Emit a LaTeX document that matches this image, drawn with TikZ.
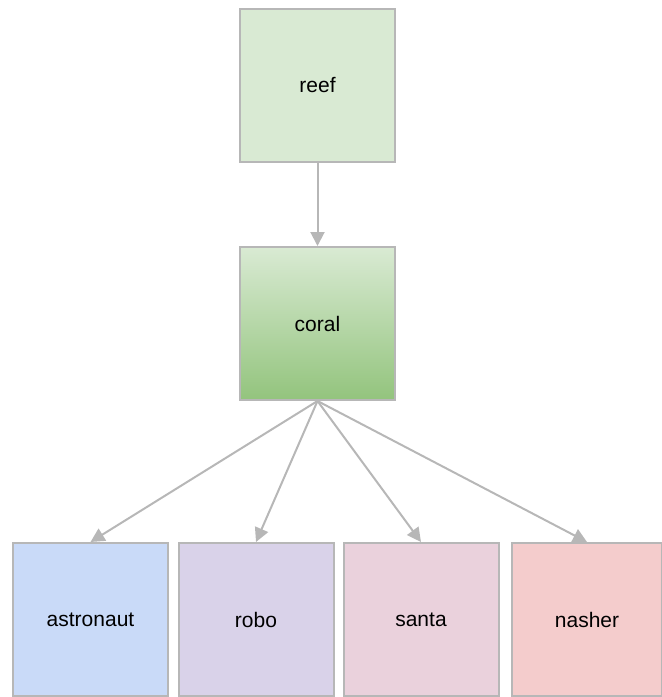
\documentclass[tikz,border=0pt]{standalone}
\usepackage{fontspec}
\setmainfont{Liberation Sans}
\usetikzlibrary{arrows.meta}
\definecolor{edge}{HTML}{B7B7B7}
\definecolor{reefc}{HTML}{D9EAD3}
\definecolor{coralc}{HTML}{93C47D}
\definecolor{astroc}{HTML}{C9DAF8}
\definecolor{roboc}{HTML}{D9D2E9}
\definecolor{santac}{HTML}{EAD1DC}
\definecolor{nashc}{HTML}{F4CCCC}
\tikzset{
  box/.style={draw=edge, line width=2pt, minimum width=155pt, minimum height=153pt,
    inner sep=0pt, font=\fontsize{21}{25}\selectfont, text=black},
  link/.style={draw=edge, line width=2pt, -{Triangle[length=14pt,width=14pt]}}
}
\begin{document}
\begin{tikzpicture}[x=1pt,y=-1pt]
  \useasboundingbox (0,0) rectangle (662,697);
  \node[box, fill=reefc] (reef) at (317.5,85) {reef};
  \node[box, top color=reefc, bottom color=coralc, shading angle=0] (coral) at (317.5,323.5) {coral};
  \node[box, fill=astroc] (astronaut) at (90.5,619.5) {astronaut};
  \node[box, fill=roboc] (robo) at (256,619.5) {robo};
  \node[box, fill=santac] (santa) at (421,619.5) {santa};
  \node[box, fill=nashc, minimum width=150pt] (nasher) at (587,619.5) {nasher};
  \draw[link] (reef.south) -- (coral.north);
  \draw[link] (coral.south) -- (astronaut.north);
  \draw[link] (coral.south) -- (robo.north);
  \draw[link] (coral.south) -- (santa.north);
  \draw[link] (coral.south) -- (nasher.north);
\end{tikzpicture}
\end{document}
